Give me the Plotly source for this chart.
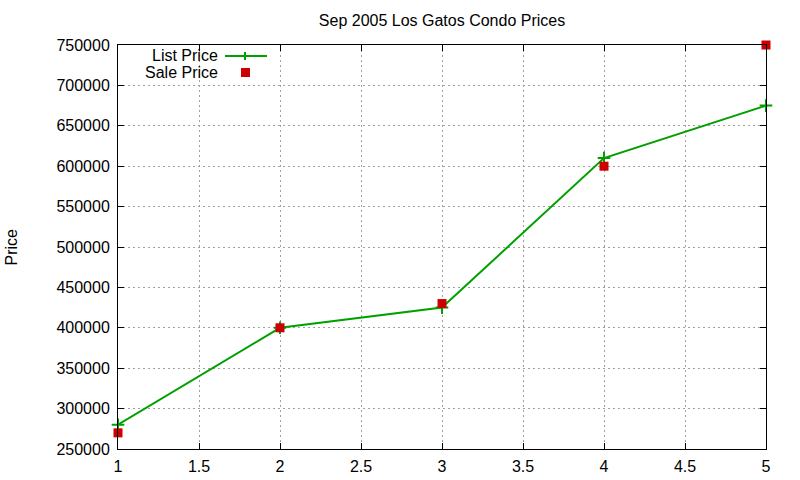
import plotly.graph_objects as go

months = [1, 2, 3, 4, 5]
list_price = [280000, 400000, 425000, 610000, 675000]
sale_price = [270000, 400000, 430000, 600000, 750000]

title = "Sep 2005 Los Gatos Condo Prices"
y_title = "Price"

green = "#00a000"
red = "#cc0000"
font = dict(family="Liberation Sans, Arial, sans-serif", size=16, color="black")

fig = go.Figure()

fig.add_trace(go.Scatter(x=months, y=list_price, name="List Price",
                         mode="lines+markers",
                         line=dict(color=green, width=2),
                         marker=dict(symbol="cross-thin", size=9,
                                     line=dict(color=green, width=2)),
                         cliponaxis=False, showlegend=False))

fig.add_trace(go.Scatter(x=months, y=sale_price, name="Sale Price",
                         mode="markers",
                         marker=dict(symbol="square", size=9, color=red),
                         cliponaxis=False, showlegend=False))

# hand-made legend, gnuplot style (text left of the sample)
W, H = 800, 480
ml, mr, mt, mb = 118, 34, 45, 31
pw, ph = W - ml - mr, H - mt - mb

def px(x):
    return (x - ml) / pw

def py(y):
    return 1 - (y - mt) / ph

for label, yy in [("List Price", 55), ("Sale Price", 72)]:
    fig.add_annotation(text=label, x=px(220), y=py(yy), xref="paper", yref="paper",
                       xanchor="right", yanchor="middle", showarrow=False, font=font)

fig.add_shape(type="line", xref="paper", yref="paper",
              x0=px(225), x1=px(267), y0=py(56), y1=py(56),
              line=dict(color=green, width=2))
fig.add_shape(type="line", xref="paper", yref="paper",
              x0=px(245), x1=px(245), y0=py(52), y1=py(60),
              line=dict(color=green, width=2))
fig.add_shape(type="rect", xref="paper", yref="paper",
              x0=px(241), x1=px(250), y0=py(68), y1=py(77),
              fillcolor=red, line=dict(width=0))

fig.add_annotation(text=y_title, x=0, y=0.5, xref="paper", yref="paper",
                   xshift=-118, textangle=-90, showarrow=False, font=font)

axis = dict(showline=True, linecolor="black", linewidth=1, mirror="allticks",
            ticks="inside", ticklen=6, tickcolor="black",
            showgrid=True, gridcolor="#a0a0a0", griddash="2px,3px", gridwidth=1,
            zeroline=False, tickfont=font, automargin=False)

fig.update_xaxes(range=[1, 5], dtick=0.5, tick0=1, ticklabelstandoff=3, **axis)
fig.update_yaxes(range=[250000, 750000], dtick=50000, tick0=250000,
                 tickformat="d", ticklabelstandoff=4, **axis)

fig.update_layout(width=W, height=H,
                  margin=dict(l=ml, r=mr, t=mt, b=mb, autoexpand=False),
                  title=dict(text=title, x=(ml + pw / 2) / W, xanchor="center",
                             y=1 - 20 / H, yanchor="middle", font=font),
                  plot_bgcolor="white", paper_bgcolor="white",
                  font=font)

fig.write_html("out.html", config={"displayModeBar": False},
               post_script="document.body.style.margin='0';document.body.style.overflow='hidden';")
